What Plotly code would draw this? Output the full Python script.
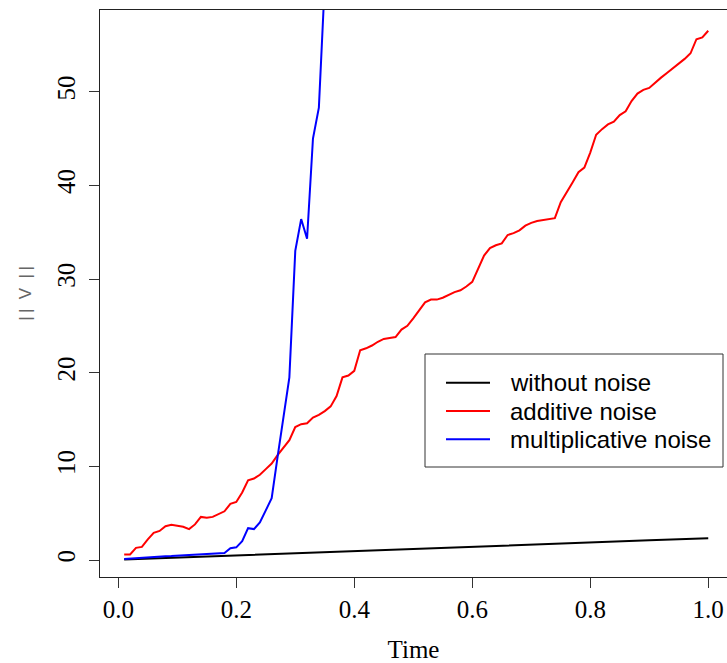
import plotly.graph_objects as go

# ---- data ----
time_black = [0.01, 0.10, 0.20, 0.30, 0.40, 0.50, 0.60, 0.70, 0.80, 0.90, 1.00]
without_noise = [0.05, 0.25, 0.48, 0.71, 0.95, 1.18, 1.41, 1.64, 1.87, 2.10, 2.33]

time_red = [0.01, 0.02, 0.03, 0.04, 0.05, 0.06, 0.07, 0.08, 0.09, 0.10,
            0.11, 0.12, 0.13, 0.14, 0.15, 0.16, 0.17, 0.18, 0.19, 0.20,
            0.21, 0.22, 0.23, 0.24, 0.25, 0.26, 0.27, 0.28, 0.29, 0.30,
            0.31, 0.32, 0.33, 0.34, 0.35, 0.36, 0.37, 0.38, 0.39, 0.40,
            0.41, 0.42, 0.43, 0.44, 0.45, 0.46, 0.47, 0.48, 0.49, 0.50,
            0.51, 0.52, 0.53, 0.54, 0.55, 0.56, 0.57, 0.58, 0.59, 0.60,
            0.61, 0.62, 0.63, 0.64, 0.65, 0.66, 0.67, 0.68, 0.69, 0.70,
            0.71, 0.72, 0.73, 0.74, 0.75, 0.76, 0.77, 0.78, 0.79, 0.80,
            0.81, 0.82, 0.83, 0.84, 0.85, 0.86, 0.87, 0.88, 0.89, 0.90,
            0.91, 0.92, 0.93, 0.94, 0.95, 0.96, 0.97, 0.98, 0.99, 1.00]
additive_noise = [0.6, 0.6, 1.3, 1.4, 2.2, 2.9, 3.1, 3.6, 3.75, 3.65,
                  3.55, 3.3, 3.8, 4.6, 4.5, 4.6, 4.9, 5.2, 6.0, 6.2,
                  7.2, 8.5, 8.7, 9.1, 9.7, 10.3, 11.2, 12.0, 12.8, 14.2,
                  14.5, 14.6, 15.2, 15.5, 15.9, 16.4, 17.5, 19.5, 19.7, 20.2,
                  22.4, 22.6, 22.9, 23.3, 23.6, 23.7, 23.8, 24.6, 25.0, 25.8,
                  26.7, 27.5, 27.8, 27.8, 28.0, 28.3, 28.6, 28.8, 29.2, 29.7,
                  31.2, 32.5, 33.3, 33.6, 33.8, 34.7, 34.9, 35.2, 35.7, 36.0,
                  36.2, 36.3, 36.4, 36.5, 38.2, 39.2, 40.3, 41.4, 41.9, 43.5,
                  45.4, 46.0, 46.5, 46.8, 47.5, 47.9, 49.0, 49.8, 50.2, 50.4,
                  51.0, 51.5, 52.0, 52.5, 52.9, 53.5, 54.1, 55.6, 55.8, 56.5]

time_blue = [0.01, 0.02, 0.03, 0.04, 0.05, 0.06, 0.07, 0.08, 0.09, 0.10,
             0.11, 0.12, 0.13, 0.14, 0.15, 0.16, 0.17, 0.18, 0.19, 0.20,
             0.21, 0.22, 0.23, 0.24, 0.25, 0.26, 0.27, 0.28, 0.29, 0.30,
             0.31, 0.32, 0.33, 0.34, 0.35, 0.36]
multiplicative_noise = [0.1, 0.15, 0.2, 0.22, 0.25, 0.3, 0.35, 0.4, 0.42, 0.45,
                        0.47, 0.5, 0.52, 0.58, 0.6, 0.62, 0.65, 0.75, 1.25, 1.35,
                        2.0, 3.4, 3.3, 4.0, 5.3, 6.6, 11.0, 15.5, 19.5, 33.0,
                        36.4, 34.3, 45.0, 48.3, 60.5, 75.0]

series_names = ["without noise", "additive noise", "multiplicative noise"]
series_colors = ["#000000", "#FF0000", "#0000FF"]

x_ticks = [0.0, 0.2, 0.4, 0.6, 0.8, 1.0]
y_ticks = [0, 10, 20, 30, 40, 50]

fig = go.Figure()
for t, v, name, col in [(time_black, without_noise, series_names[0], series_colors[0]),
                        (time_red, additive_noise, series_names[1], series_colors[1]),
                        (time_blue, multiplicative_noise, series_names[2], series_colors[2])]:
    fig.add_trace(go.Scatter(x=t, y=v, mode="lines", name=name,
                             line=dict(color=col, width=2), showlegend=False))

serif = "Liberation Serif"
fig.update_layout(
    width=727, height=663,
    margin=dict(l=100, r=0, t=10, b=86),
    paper_bgcolor="white", plot_bgcolor="white",
    xaxis=dict(range=[-0.031, 1.0318], tickvals=x_ticks, tickformat=".1f",
               showgrid=False, zeroline=False, showline=True, linecolor="#222",
               linewidth=1, mirror=True, ticks="outside", ticklen=10, tickcolor="#333",
               tickfont=dict(family=serif, size=25, color="black"),
               title=dict(text="Time", font=dict(family=serif, size=25, color="black"),
                          standoff=19)),
    yaxis=dict(range=[-1.815, 58.72], tickvals=y_ticks,
               showgrid=False, zeroline=False, showline=True, linecolor="#222",
               linewidth=1, mirror=False, ticks="outside", ticklen=10, tickcolor="#333",
               tickangle=-90, ticklabelstandoff=4,
               tickfont=dict(family=serif, size=25, color="black"),
               title=dict(text="|\u2009|\u00a0\u00a0V\u00a0\u00a0|\u2009|",
                          font=dict(family="Liberation Sans", size=17, color="#666"),
                          standoff=17)),
)

# legend box drawn in paper space (R-style legend)
legend_x0, legend_x1 = 425, 723
legend_y0, legend_y1 = 354, 467
pl, pr, pt, pb = 100, 727, 10, 577
def px(x):
    return (x - pl) / (pr - pl)
def py(y):
    return (pb - y) / (pb - pt)

fig.add_shape(type="rect", xref="paper", yref="paper",
              x0=px(legend_x0), x1=px(legend_x1), y0=py(legend_y1), y1=py(legend_y0),
              line=dict(color="#333", width=1), fillcolor="white", layer="above")
row_y = [382.7, 411.0, 439.3]
for i, (name, col) in enumerate(zip(series_names, series_colors)):
    fig.add_shape(type="line", xref="paper", yref="paper",
                  x0=px(446), x1=px(490), y0=py(row_y[i]), y1=py(row_y[i]),
                  line=dict(color=col, width=2), layer="above")
    fig.add_annotation(xref="paper", yref="paper", x=px(508), y=py(row_y[i]),
                       text=name, showarrow=False, xanchor="left", yanchor="middle",
                       font=dict(family="Liberation Sans", size=24, color="black"))

fig.write_html("out.html", config={"displayModeBar": False})

# remove default page margin so the figure sits at the window's top-left corner
with open("out.html", "r", encoding="utf-8") as f:
    html = f.read()
html = html.replace("<head>", "<head><style>html,body{margin:0;padding:0;overflow:hidden;}</style>", 1)
with open("out.html", "w", encoding="utf-8") as f:
    f.write(html)
